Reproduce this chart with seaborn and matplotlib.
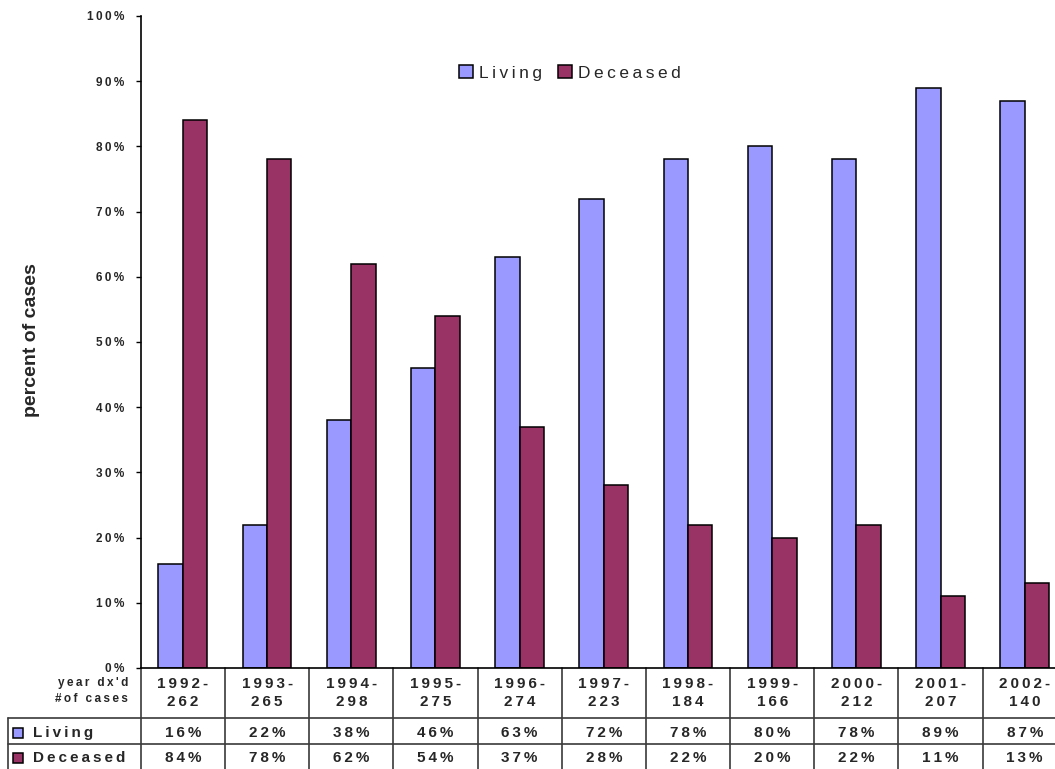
import matplotlib
matplotlib.use("Agg")
import matplotlib.pyplot as plt
from matplotlib.lines import Line2D
from matplotlib.patches import Rectangle
from matplotlib.transforms import blended_transform_factory
import numpy as np
import pandas as pd
import seaborn as sns

# ---- data -------------------------------------------------------------
years = [1992, 1993, 1994, 1995, 1996, 1997, 1998, 1999, 2000, 2001, 2002]
cases = [262, 265, 298, 275, 274, 223, 184, 166, 212, 207, 140]
living = [16, 22, 38, 46, 63, 72, 78, 80, 78, 89, 87]
deceased = [84, 78, 62, 54, 37, 28, 22, 20, 22, 11, 13]
statuses = ["Living", "Deceased"]
colors = {"Living": "#9999FF", "Deceased": "#993366"}
y_ticks = list(range(0, 101, 10))

# ---- style ------------------------------------------------------------
sns.set_style("white")
plt.rcParams["font.family"] = ["Liberation Sans", "DejaVu Sans"]
SP = "\u2009"  # thin space used for expanded character spacing


def spaced(s):
    return SP.join(s)


W, H = 1055, 769
fig = plt.figure(figsize=(W / 100, H / 100), dpi=100)
ax = fig.add_axes([140.8 / W, 1 - 668 / H, 926 / W, 652 / H])

periods = [f"{y}-{n}" for y, n in zip(years, cases)]
df = pd.DataFrame({
    "period": periods * 2,
    "status": ["Living"] * len(years) + ["Deceased"] * len(years),
    "pct": living + deceased,
})

sns.barplot(data=df, x="period", y="pct", hue="status", hue_order=statuses,
            palette=colors, saturation=1, width=0.58, gap=0,
            edgecolor="black", linewidth=1.1, ax=ax)

ax.set_ylim(0, 100)
ax.set_xlim(-0.5, len(years) - 0.5)
ax.set_yticks(y_ticks)
ax.set_yticklabels([spaced(f"{t}%") for t in y_ticks],
                   fontsize=8.5, fontweight="bold")
ax.tick_params(axis="y", direction="out", length=3.6, width=1,
               color="black", pad=8.5, left=True)
ax.tick_params(axis="x", length=0, labelbottom=False)
ax.set_xlabel("")
ax.set_ylabel("percent of cases", fontsize=14, fontweight="bold")
ax.yaxis.set_label_coords((40 - 140.8) / 926, 0.503)
for side in ["top", "right"]:
    ax.spines[side].set_visible(False)
for side in ["left", "bottom"]:
    ax.spines[side].set_color("black")
    ax.spines[side].set_linewidth(1.2)

# legend across the top
handles, _ = ax.get_legend_handles_labels()
ax.legend(handles, [spaced(s) for s in statuses], loc="center",
          bbox_to_anchor=(0.4635, 0.9126), ncol=2, frameon=False,
          fontsize=12.5, handlelength=0.8, handleheight=0.8,
          handletextpad=0.35, columnspacing=0.9)

# ---- data table under the axis ------------------------------------------
def fy(px):
    return 1 - px / H


trans = blended_transform_factory(ax.transData, fig.transFigure)
grid_kw = dict(color="#3a3a3a", lw=1.2, clip_on=False)

# horizontal rules
for ypx in (718, 744):
    fig.add_artist(Line2D([8 / W, 1], [fy(ypx)] * 2,
                          transform=fig.transFigure, **grid_kw))
# left border of row-label column
fig.add_artist(Line2D([8 / W, 8 / W], [fy(718), 0],
                      transform=fig.transFigure, **grid_kw))
# column dividers (category boundaries)
for i in range(len(years) + 1):
    ax.plot([i - 0.5, i - 0.5], [fy(668), 0], transform=trans, **grid_kw)

# header labels
fig.text(128 / W, fy(683), spaced("year dx'd"), ha="right", va="center",
         fontsize=8.5, fontweight="bold")
fig.text(128 / W, fy(699), spaced("#of cases"), ha="right", va="center",
         fontsize=8.5, fontweight="bold")

# category labels
for i, (y, n) in enumerate(zip(years, cases)):
    ax.text(i, fy(693), spaced(f"{y}-") + "\n" + spaced(str(n)),
            transform=trans, ha="center", va="center", fontsize=11,
            fontweight="bold", linespacing=1.3)

# value rows
rows = [("Living", living, 733), ("Deceased", deceased, 758)]
for name, vals, ypx in rows:
    fig.add_artist(Rectangle((13 / W, fy(ypx + 5)), 10 / W, 10 / H,
                             transform=fig.transFigure,
                             facecolor=colors[name], edgecolor="black",
                             lw=1.1))
    fig.text(33 / W, fy(ypx), spaced(name), ha="left", va="center",
             fontsize=11, fontweight="bold")
    for i, v in enumerate(vals):
        ax.text(i, fy(ypx), spaced(f"{v}%"), transform=trans,
                ha="center", va="center", fontsize=11, fontweight="bold")

fig.savefig("out.png", dpi=100)
